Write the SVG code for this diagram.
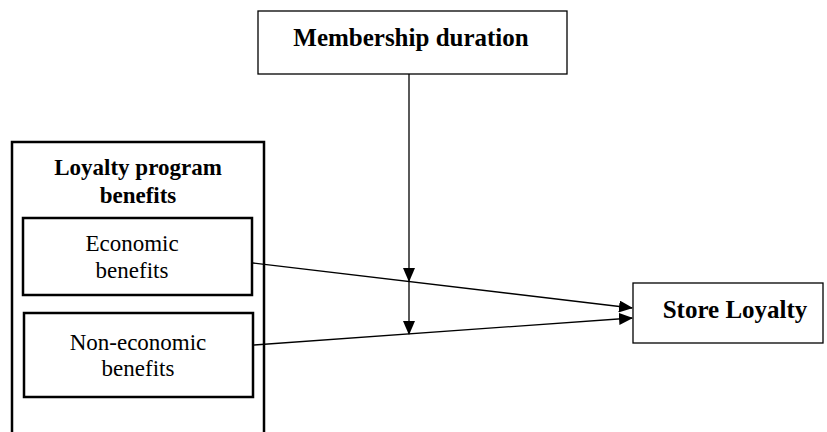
<svg xmlns="http://www.w3.org/2000/svg" width="827" height="432" viewBox="0 0 827 432">
<style>
.box{fill:#fff;stroke:#000;stroke-width:1.3}
.thick{fill:none;stroke:#000;stroke-width:2.5}
.b{font-family:"Liberation Serif",serif;font-weight:bold;font-size:25px;fill:#000;text-anchor:middle}
.r{font-family:"Liberation Serif",serif;font-size:23px;fill:#000;text-anchor:middle}
.c{stroke:#000;stroke-width:1.3;fill:none}
</style>
<defs>
<marker id="ah" markerWidth="14" markerHeight="12" refX="13" refY="6" orient="auto" markerUnits="userSpaceOnUse">
<path d="M0,0 L14,6 L0,12 Z" fill="#000"/>
</marker>
</defs>
<rect width="827" height="432" fill="#fff"/>
<g id="membership">
<rect class="box" x="258" y="11" width="309" height="63"/>
<text class="b" x="411" y="46">Membership duration</text>
</g>
<g id="loyalty-program">
<path class="thick" d="M12,440 L12,142 L264,142 L264,440"/>
<text class="b" x="138" y="175" style="font-size:23px">Loyalty program</text>
<text class="b" x="138" y="203" style="font-size:23px">benefits</text>
</g>
<g id="economic">
<rect class="thick" x="23" y="218" width="229" height="77"/>
<text class="r" x="132" y="251">Economic</text>
<text class="r" x="132" y="278">benefits</text>
</g>
<g id="non-economic">
<rect class="thick" x="24" y="313" width="229" height="84"/>
<text class="r" x="138" y="350">Non-economic</text>
<text class="r" x="138" y="376">benefits</text>
</g>
<g id="store-loyalty">
<rect class="box" x="633" y="283" width="190" height="60"/>
<text class="b" x="735" y="318">Store Loyalty</text>
</g>
<g id="connectors">
<line class="c" x1="253" y1="263" x2="632" y2="308" marker-end="url(#ah)"/>
<line class="c" x1="254" y1="345" x2="632" y2="318" marker-end="url(#ah)"/>
<line class="c" x1="409" y1="74" x2="409" y2="281" marker-end="url(#ah)"/>
<line class="c" x1="409" y1="281" x2="409" y2="334" marker-end="url(#ah)"/>
</g>
</svg>
